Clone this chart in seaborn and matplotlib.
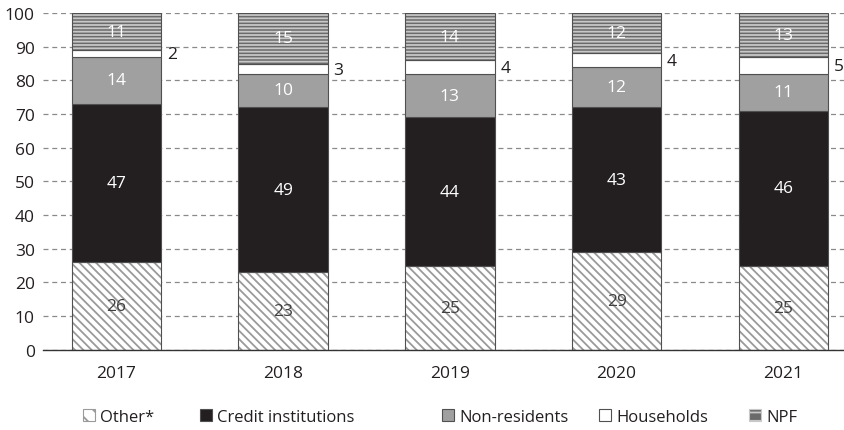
import matplotlib
matplotlib.use("Agg")
import matplotlib.pyplot as plt
import matplotlib.patches as mpatches
import seaborn as sns
import pandas as pd
import numpy as np

years = ["2017", "2018", "2019", "2020", "2021"]
other = [26, 23, 25, 29, 25]
credit = [47, 49, 44, 43, 46]
nonres = [14, 10, 13, 12, 11]
households = [2, 3, 4, 4, 5]
npf = [11, 15, 14, 12, 13]

series = [
    # name, values, face, hatch, hatch colour, label colour
    ("Other*", other, "white", "\\\\\\\\", "#9a9a9a", "#404040"),
    ("Credit institutions", credit, "#231f20", None, None, "white"),
    ("Non-residents", nonres, "#a0a0a0", None, None, "white"),
    ("Households", households, "white", None, None, "#231f20"),
    ("NPF", npf, "#6a6a6a", "-----", "#c8c8c8", "white"),
]

sns.set_style("white")
plt.rcParams["font.family"] = ["Open Sans", "DejaVu Sans"]
plt.rcParams["hatch.linewidth"] = 1.3

fig = plt.figure(figsize=(8.45, 4.31), dpi=100)
ax = fig.add_axes([0.051, 0.186, 0.949, 0.7815])

width = 0.536
bottom = np.zeros(len(years))
for name, vals, face, hatch, hcol, tcol in series:
    df = pd.DataFrame({"Year": years, "Value": vals})
    n0 = len(ax.patches)
    sns.barplot(data=df, x="Year", y="Value", ax=ax, color=face, width=width,
                bottom=bottom, saturation=1, edgecolor=hcol if hatch else "#505050",
                linewidth=0 if hatch else 0.8, zorder=2)
    for p in ax.patches[n0:]:
        p.set_facecolor(face)
        if hatch:
            p.set_hatch(hatch)
    if hatch:
        # outline on top of the hatched bars
        ax.bar(np.arange(len(years)), vals, width=width, bottom=bottom,
               fill=False, edgecolor="#505050", linewidth=0.8, zorder=3)
    for i, v in enumerate(vals):
        y = bottom[i] + v / 2
        if name == "Households":
            ax.text(i + width / 2 + 0.035, y - 0.3, str(v), ha="left", va="center",
                    fontsize=12.5, color="#231f20", zorder=4, clip_on=False)
        else:
            ax.text(i, y, str(v), ha="center", va="center", fontsize=12.5,
                    color=tcol, zorder=4)
    bottom = bottom + np.array(vals)

ax.set_xlim(-0.44, 4.37)
ax.set_ylim(0, 100)
ax.set_yticks(range(0, 101, 10))
ax.yaxis.grid(True, linestyle=(0, (4, 3)), color="#8a8a8a", linewidth=0.9, zorder=0)
ax.set_axisbelow(True)
ax.set_xlabel("")
ax.set_ylabel("")
for s in ["left", "right", "top"]:
    ax.spines[s].set_visible(False)
ax.spines["bottom"].set_color("#333333")
ax.spines["bottom"].set_linewidth(1.0)
ax.tick_params(axis="both", length=0, labelsize=12.5, colors="#231f20")
ax.tick_params(axis="x", pad=11)
ax.tick_params(axis="y", pad=6)

# legend, one entry at a time to keep the uneven spacing
leg_x = [83, 200, 442, 599, 749]
for (name, vals, face, hatch, hcol, tcol), lx in zip(series, leg_x):
    h = mpatches.Patch(facecolor=face, edgecolor=hcol if hatch else "#505050",
                       hatch=hatch[:2] if hatch else None, linewidth=0.8)
    leg = fig.legend(handles=[h], labels=[name], loc="center left",
                     bbox_to_anchor=(lx / 845, 0.03), frameon=False,
                     handlelength=0.75, handleheight=0.75, handletextpad=0.3,
                     borderpad=0, borderaxespad=0, fontsize=12)
    for t in leg.get_texts():
        t.set_color("#231f20")

fig.savefig("out.png", dpi=100)
